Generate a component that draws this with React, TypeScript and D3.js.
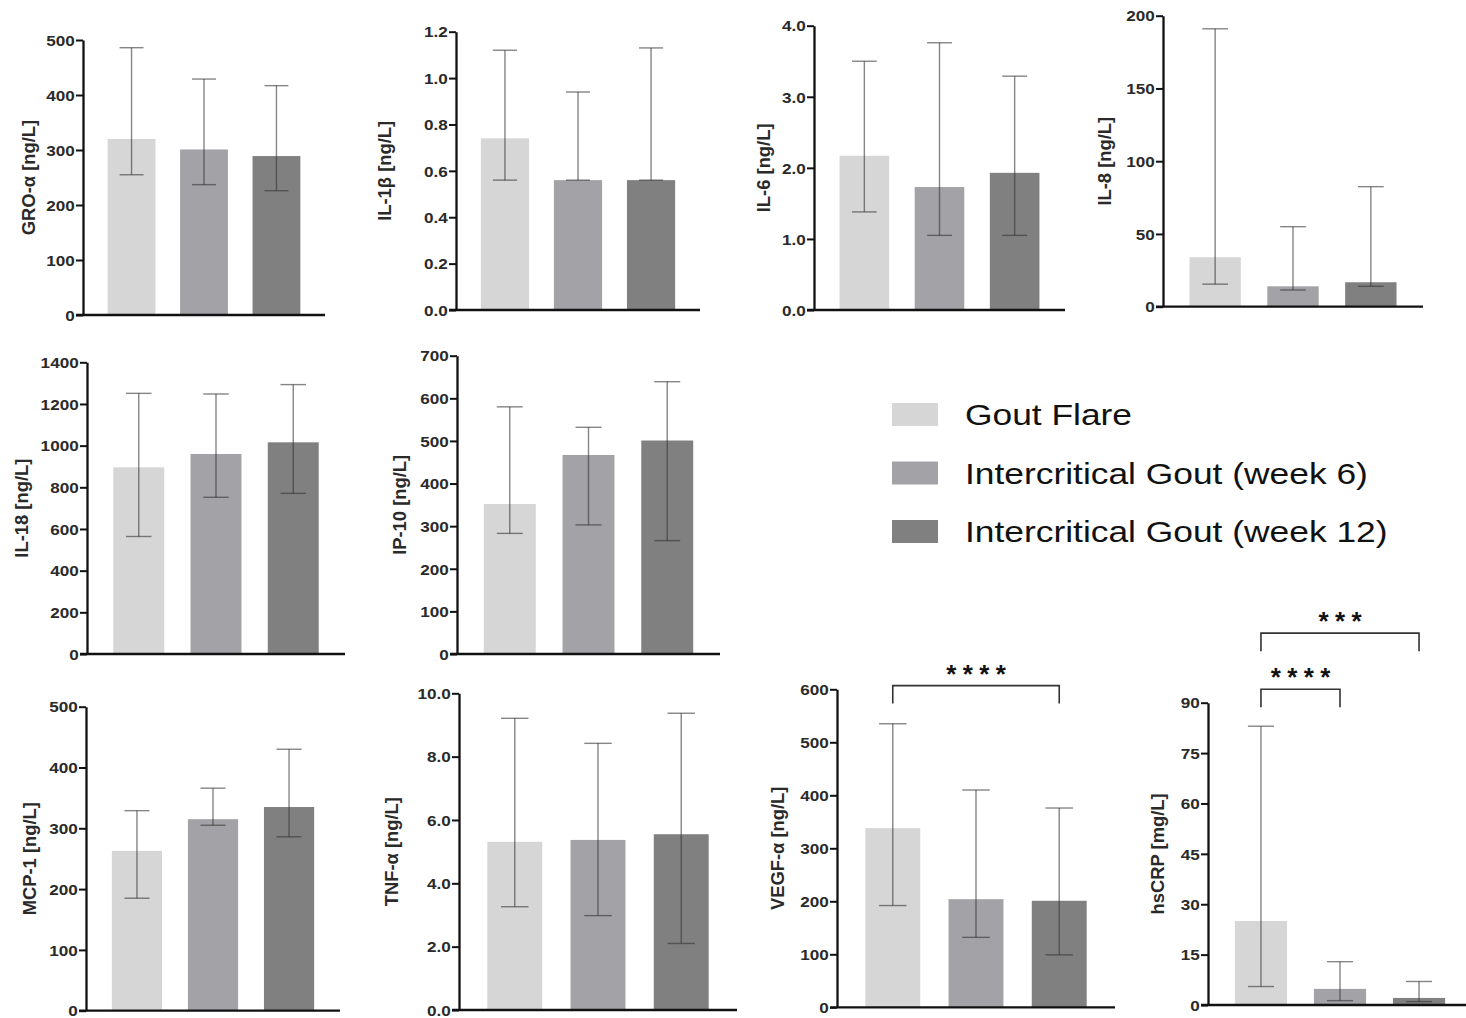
import React, { useEffect, useRef } from "react";
import * as d3 from "d3";

// ---------- data ----------
const groups = ["Gout Flare", "Intercritical Gout (week 6)", "Intercritical Gout (week 12)"];
const groupColors = ["#d6d6d6", "#a3a3a7", "#808080"];

const panelNames = ["GRO-α", "IL-1β", "IL-6", "IL-8", "IL-18", "IP-10", "MCP-1", "TNF-α", "VEGF-α", "hsCRP"];
const panelUnits = ["ng/L", "ng/L", "ng/L", "ng/L", "ng/L", "ng/L", "ng/L", "ng/L", "ng/L", "mg/L"];
const yMaxes = [500, 1.2, 4, 200, 1400, 700, 500, 10, 600, 90];
const tickSteps = [100, 0.2, 1, 50, 200, 100, 100, 2, 100, 15];
const tickDecimals = [0, 1, 1, 0, 0, 0, 0, 1, 0, 0];

const flareMean = [320, 0.74, 2.17, 34, 896, 352, 263, 5.31, 338, 25];
const flareLow = [255, 0.56, 1.38, 15.5, 564, 283, 185, 3.26, 192, 5.5];
const flareHigh = [486, 1.12, 3.5, 191, 1251, 580, 329, 9.21, 535, 83];

const week6Mean = [301, 0.56, 1.73, 14, 960, 467, 315, 5.37, 204, 4.8];
const week6Low = [237, 0.56, 1.05, 11.5, 752, 303, 305, 2.98, 132, 1.3];
const week6High = [429, 0.94, 3.76, 55, 1248, 532, 366, 8.42, 410, 12.9];

const week12Mean = [289, 0.56, 1.93, 16.8, 1016, 501, 335, 5.55, 201, 2.1];
const week12Low = [226, 0.56, 1.05, 14, 771, 266, 286, 2.1, 99, 1.0];
const week12High = [417, 1.13, 3.29, 82.5, 1293, 639, 430, 9.37, 376, 7.0];

// significance annotations
const sigPanel = [8, 9, 9];
const sigFrom = [0, 0, 0];
const sigTo = [2, 1, 2];
const sigStars = ["****", "****", "***"];
const sigLevel = [607, 94, 110.7];

// ---------- layout (pixel positions of each panel) ----------
const layout = [
  { x0: 83, yTop: 40, y0: 315, xEnd: 325, labelX: 29 },
  { x0: 456, yTop: 31.7, y0: 310, xEnd: 700, labelX: 385 },
  { x0: 814, yTop: 25.7, y0: 310, xEnd: 1065, labelX: 764 },
  { x0: 1163, yTop: 15.7, y0: 306.7, xEnd: 1423, labelX: 1105 },
  { x0: 87, yTop: 362.3, y0: 654, xEnd: 345, labelX: 22 },
  { x0: 457, yTop: 355.7, y0: 654, xEnd: 720, labelX: 400 },
  { x0: 86, yTop: 706.7, y0: 1010.7, xEnd: 340, labelX: 30 },
  { x0: 459, yTop: 693.3, y0: 1010, xEnd: 737, labelX: 392 },
  { x0: 837, yTop: 689.3, y0: 1007.3, xEnd: 1115, labelX: 778 },
  { x0: 1208, yTop: 702.7, y0: 1005, xEnd: 1472, labelX: 1158 },
];

const FONT = "'Liberation Sans', Arial, Helvetica, sans-serif";

export default function App() {
  const ref = useRef<SVGSVGElement>(null);

  useEffect(() => {
    const svg = d3.select(ref.current);
    svg.selectAll("*").remove();
    svg.append("rect").attr("width", 1466).attr("height", 1018).attr("fill", "#fff");

    const scales: any[] = [];

    panelNames.forEach((name, i) => {
      const L = layout[i];
      const y = d3.scaleLinear().domain([0, yMaxes[i]]).range([L.y0, L.yTop]);
      const x = d3
        .scaleBand<string>()
        .domain(groups)
        .range([L.x0, L.xEnd])
        .paddingInner(0.34)
        .paddingOuter(0.34);
      scales.push({ x, y });

      const means = [flareMean[i], week6Mean[i], week12Mean[i]];
      const lows = [flareLow[i], week6Low[i], week12Low[i]];
      const highs = [flareHigh[i], week6High[i], week12High[i]];
      const rows = groups.map((gname, k) => ({ gname, k, m: means[k], lo: lows[k], hi: highs[k] }));

      const g = svg.append("g");

      g.selectAll("rect.bar")
        .data(rows)
        .join("rect")
        .attr("class", "bar")
        .attr("x", (d) => x(d.gname)!)
        .attr("y", (d) => y(d.m))
        .attr("width", x.bandwidth())
        .attr("height", (d) => L.y0 - y(d.m))
        .attr("fill", (d) => groupColors[d.k]);

      const cap = x.bandwidth() * 0.5;
      const eg = g
        .selectAll("g.err")
        .data(rows)
        .join("g")
        .attr("class", "err")
        .attr("stroke", "#333")
        .attr("stroke-opacity", 0.6)
        .attr("stroke-width", 1.4)
        .attr("fill", "none");
      eg.append("line")
        .attr("x1", (d) => x(d.gname)! + x.bandwidth() / 2)
        .attr("x2", (d) => x(d.gname)! + x.bandwidth() / 2)
        .attr("y1", (d) => y(d.lo))
        .attr("y2", (d) => y(d.hi));
      eg.append("line")
        .attr("x1", (d) => x(d.gname)! + x.bandwidth() / 2 - cap / 2)
        .attr("x2", (d) => x(d.gname)! + x.bandwidth() / 2 + cap / 2)
        .attr("y1", (d) => y(d.hi))
        .attr("y2", (d) => y(d.hi));
      eg.append("line")
        .attr("x1", (d) => x(d.gname)! + x.bandwidth() / 2 - cap / 2)
        .attr("x2", (d) => x(d.gname)! + x.bandwidth() / 2 + cap / 2)
        .attr("y1", (d) => y(d.lo))
        .attr("y2", (d) => y(d.lo));

      // y axis
      const ticks = d3.range(0, yMaxes[i] + tickSteps[i] / 2, tickSteps[i]);
      const axis = d3
        .axisLeft(y)
        .tickValues(ticks)
        .tickFormat(d3.format(`.${tickDecimals[i]}f`) as any)
        .tickSize(7)
        .tickSizeOuter(0);
      const ag = g.append("g").attr("transform", `translate(${L.x0},0)`).call(axis);
      ag.select(".domain").attr("stroke", "#111").attr("stroke-width", 2.3);
      ag.selectAll(".tick line").attr("stroke", "#111").attr("stroke-width", 2);
      ag.selectAll(".tick text")
        .attr("x", -8.5 / 1.2)
        .attr("dy", "0.36em")
        .attr("font-family", FONT)
        .attr("font-weight", "bold")
        .attr("font-size", 14.5)
        .attr("fill", "#2a2a2a")
        .attr("transform", "scale(1.18,1)");

      // x axis line
      g.append("line")
        .attr("x1", L.x0 - 7)
        .attr("x2", L.xEnd)
        .attr("y1", L.y0)
        .attr("y2", L.y0)
        .attr("stroke", "#111")
        .attr("stroke-width", 2.3);

      // y label
      g.append("text")
        .attr("transform", `translate(${L.labelX},${(L.yTop + L.y0) / 2}) rotate(-90) scale(1.05,1)`)
        .attr("text-anchor", "middle")
        .attr("dominant-baseline", "central")
        .attr("font-family", FONT)
        .attr("font-weight", "bold")
        .attr("font-size", 17.5)
        .attr("fill", "#2a2a2a")
        .text(`${name} [${panelUnits[i]}]`);
    });

    // significance brackets
    sigPanel.forEach((p, j) => {
      const { x, y } = scales[p];
      const x1 = x(groups[sigFrom[j]])! + x.bandwidth() / 2;
      const x2 = x(groups[sigTo[j]])! + x.bandwidth() / 2;
      const yb = y(sigLevel[j]);
      svg
        .append("path")
        .attr("d", `M${x1},${yb + 18}V${yb}H${x2}V${yb + 18}`)
        .attr("fill", "none")
        .attr("stroke", "#333")
        .attr("stroke-width", 1.6);
      const n = sigStars[j].length;
      const mid = (x1 + x2) / 2;
      const spacing = 16.5;
      const starX = d3.range(n).map((s) => mid + (s - (n - 1) / 2) * spacing);
      svg
        .append("g")
        .selectAll("text")
        .data(starX)
        .join("text")
        .attr("x", (d) => d)
        .attr("y", yb - 18 + 15)
        .attr("text-anchor", "middle")
        .attr("font-family", FONT)
        .attr("font-weight", "bold")
        .attr("font-size", 26)
        .attr("fill", "#111")
        .text("*");
    });

    // legend
    const lg = svg.append("g");
    const legY = d3.scalePoint<string>().domain(groups).range([403, 520]);
    lg.selectAll("rect")
      .data(groups)
      .join("rect")
      .attr("x", 892)
      .attr("y", (d) => legY(d)!)
      .attr("width", 46)
      .attr("height", 23)
      .attr("fill", (d, k) => groupColors[k]);
    lg.selectAll("text")
      .data(groups)
      .join("text")
      .attr("transform", (d) => `translate(965,${legY(d)! + 22}) scale(1.22,1)`)
      .attr("font-family", FONT)
      .attr("font-size", 29)
      .attr("fill", "#111")
      .text((d) => d);
  }, []);

  return (
    <svg
      ref={ref}
      width={1466}
      height={1018}
      style={{ position: "absolute", left: 0, top: 0, display: "block" }}
    />
  );
}
